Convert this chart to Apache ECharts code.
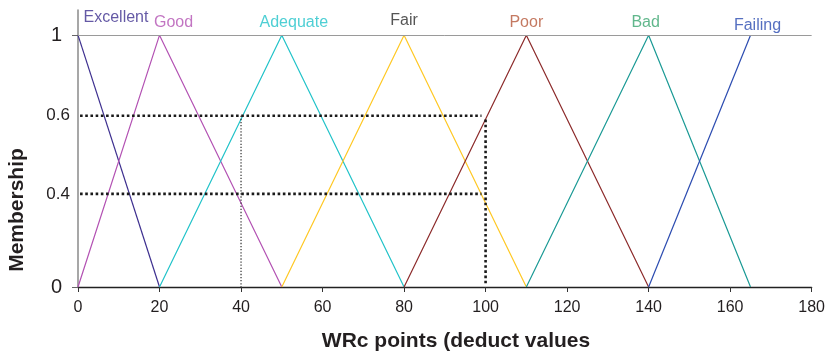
<!DOCTYPE html>
<html>
<head>
<meta charset="utf-8">
<script src="https://cdn.jsdelivr.net/npm/echarts@6/dist/echarts.min.js"></script>
<style>
html,body{margin:0;padding:0;background:#fff;}
#chart{width:828px;height:355px;}
</style>
</head>
<body>
<div id="chart"></div>
<script>
// ---- data ----
const setNames = ['Excellent', 'Good', 'Adequate', 'Fair', 'Poor', 'Bad', 'Failing'];
const excellent = [[0, 1], [20, 0]];
const good = [[0, 0], [20, 1], [50, 0]];
const adequate = [[20, 0], [50, 1], [80, 0]];
const fair = [[50, 0], [80, 1], [110, 0]];
const poor = [[80, 0], [110, 1], [140, 0]];
const bad = [[110, 0], [140, 1], [165, 0]];
const failing = [[140, 0], [165, 1]];
const peakX = [0, 20, 50, 80, 110, 140, 165];

const xTicks = [0, 20, 40, 60, 80, 100, 120, 140, 160, 180];
const yTickValues = [0, 0.37, 0.68, 1];
const yTickLabels = ['0', '0.4', '0.6', '1'];

// guide (dotted) lines
const guideHigh = [[0.5, 0.68], [99, 0.68]];
const guideLow = [[0.5, 0.37], [99, 0.37]];
const cutAt100 = [[100, 0.665], [100, 0.015]];
const cutAt40 = [[40, 0.68], [40, 0]];

const xTitle = 'WRc points (deduct values';
const yTitle = 'Membership';

// ---- styles ----
const lineColors = ['#3d2f8f', '#b352b3', '#22c3c9', '#ffc824', '#8c2b2b', '#1b9a95', '#2b4bb0'];
const labelColors = ['#3d2f8f', '#b352b3', '#22c3c9', '#2a2a2a', '#b5583a', '#3aa56f', '#2b4bb0'];
const labelOffsets = [[38, -18], [14, -13], [12, -13], [0, -15], [0, -13], [-3, -13], [7, -10]];
const FONT = '"Liberation Sans", Arial, sans-serif';

const seriesData = [excellent, good, adequate, fair, poor, bad, failing];

const series = [];
// gridline at membership 1
series.push({
  type: 'line', data: [], silent: true,
  markLine: {
    silent: true, symbol: 'none', label: {show: false},
    lineStyle: {color: '#9a9a9a', width: 1, type: 'solid'},
    emphasis: {disabled: true},
    data: [{yAxis: 1}]
  }
});
seriesData.forEach((d, i) => {
  series.push({
    name: setNames[i], type: 'line', data: d,
    showSymbol: false, symbol: 'none', silent: true,
    lineStyle: {color: lineColors[i], width: 1.2},
    z: 3
  });
});
// peak labels
series.push({
  type: 'scatter', silent: true, z: 5,
  symbolSize: 1,
  itemStyle: {color: 'rgba(0,0,0,0)'},
  data: peakX.map((x, i) => ({
    value: [x, 1],
    label: {
      show: true, formatter: setNames[i], position: 'inside',
      offset: labelOffsets[i], color: labelColors[i],
      fontSize: 16, fontFamily: FONT
    }
  }))
});
// dotted guides
[guideHigh, guideLow, cutAt100].forEach(d => {
  series.push({
    type: 'line', data: d, showSymbol: false, symbol: 'none', silent: true, z: 4,
    lineStyle: {color: '#1a1a1a', width: 2.6, type: [2.6, 2.6], cap: 'butt'}
  });
});
series.push({
  type: 'line', data: cutAt40, showSymbol: false, symbol: 'none', silent: true, z: 4,
  lineStyle: {color: '#1a1a1a', width: 1.1, type: [1.3, 1.8]}
});

const chart = echarts.init(document.getElementById('chart'), null, {renderer: 'canvas'});
chart.setOption({
  animation: false,
  backgroundColor: '#ffffff',
  grid: {left: 78, right: 13, top: 10, bottom: 68, containLabel: false},
  xAxis: {
    type: 'value', min: 0, max: 180, interval: 20,
    axisLine: {show: true, onZero: false, lineStyle: {color: '#222', width: 1.3}},
    axisTick: {show: true, length: 5, lineStyle: {color: '#333', width: 1}},
    axisLabel: {
      color: '#231f20', fontSize: 16, fontFamily: FONT, margin: 13,
      formatter: v => (xTicks.indexOf(v) >= 0 ? String(v) : '')
    },
    splitLine: {show: false}
  },
  yAxis: {
    type: 'value', min: 0, max: 1.1,
    axisLine: {show: true, lineStyle: {color: '#8a8a8a', width: 1.5}},
    axisTick: {show: true, customValues: [0, 1], length: 6, lineStyle: {color: '#666', width: 1}},
    axisLabel: {
      show: true, customValues: yTickValues, margin: 8,
      fontFamily: FONT, color: '#231f20',
      formatter: v => {
        let k = 0, best = 1e9;
        yTickValues.forEach((t, i) => { if (Math.abs(t - v) < best) { best = Math.abs(t - v); k = i; } });
        const s = yTickLabels[k];
        return s.length === 1 ? '{big|' + s + '}' : '{small|' + s + '}';
      },
      rich: {
        big: {fontSize: 20, fontFamily: FONT, color: '#231f20', padding: [0, 8, 0, 0]},
        small: {fontSize: 17, fontFamily: FONT, color: '#231f20'}
      }
    },
    splitLine: {show: false}
  },
  graphic: [
    {type: 'text', left: 'center', x: 0, style: {}, silent: true, ignore: true},
    {
      type: 'text', x: 456, y: 341, silent: true,
      style: {text: xTitle, font: 'bold 21px ' + FONT, fill: '#231f20', textAlign: 'center', textVerticalAlign: 'middle'}
    },
    {
      type: 'text', x: 17, y: 210, rotation: Math.PI / 2, silent: true,
      style: {text: yTitle, font: 'bold 21px ' + FONT, fill: '#231f20', textAlign: 'center', textVerticalAlign: 'middle'}
    }
  ],
  series: series
});
</script>
</body>
</html>
